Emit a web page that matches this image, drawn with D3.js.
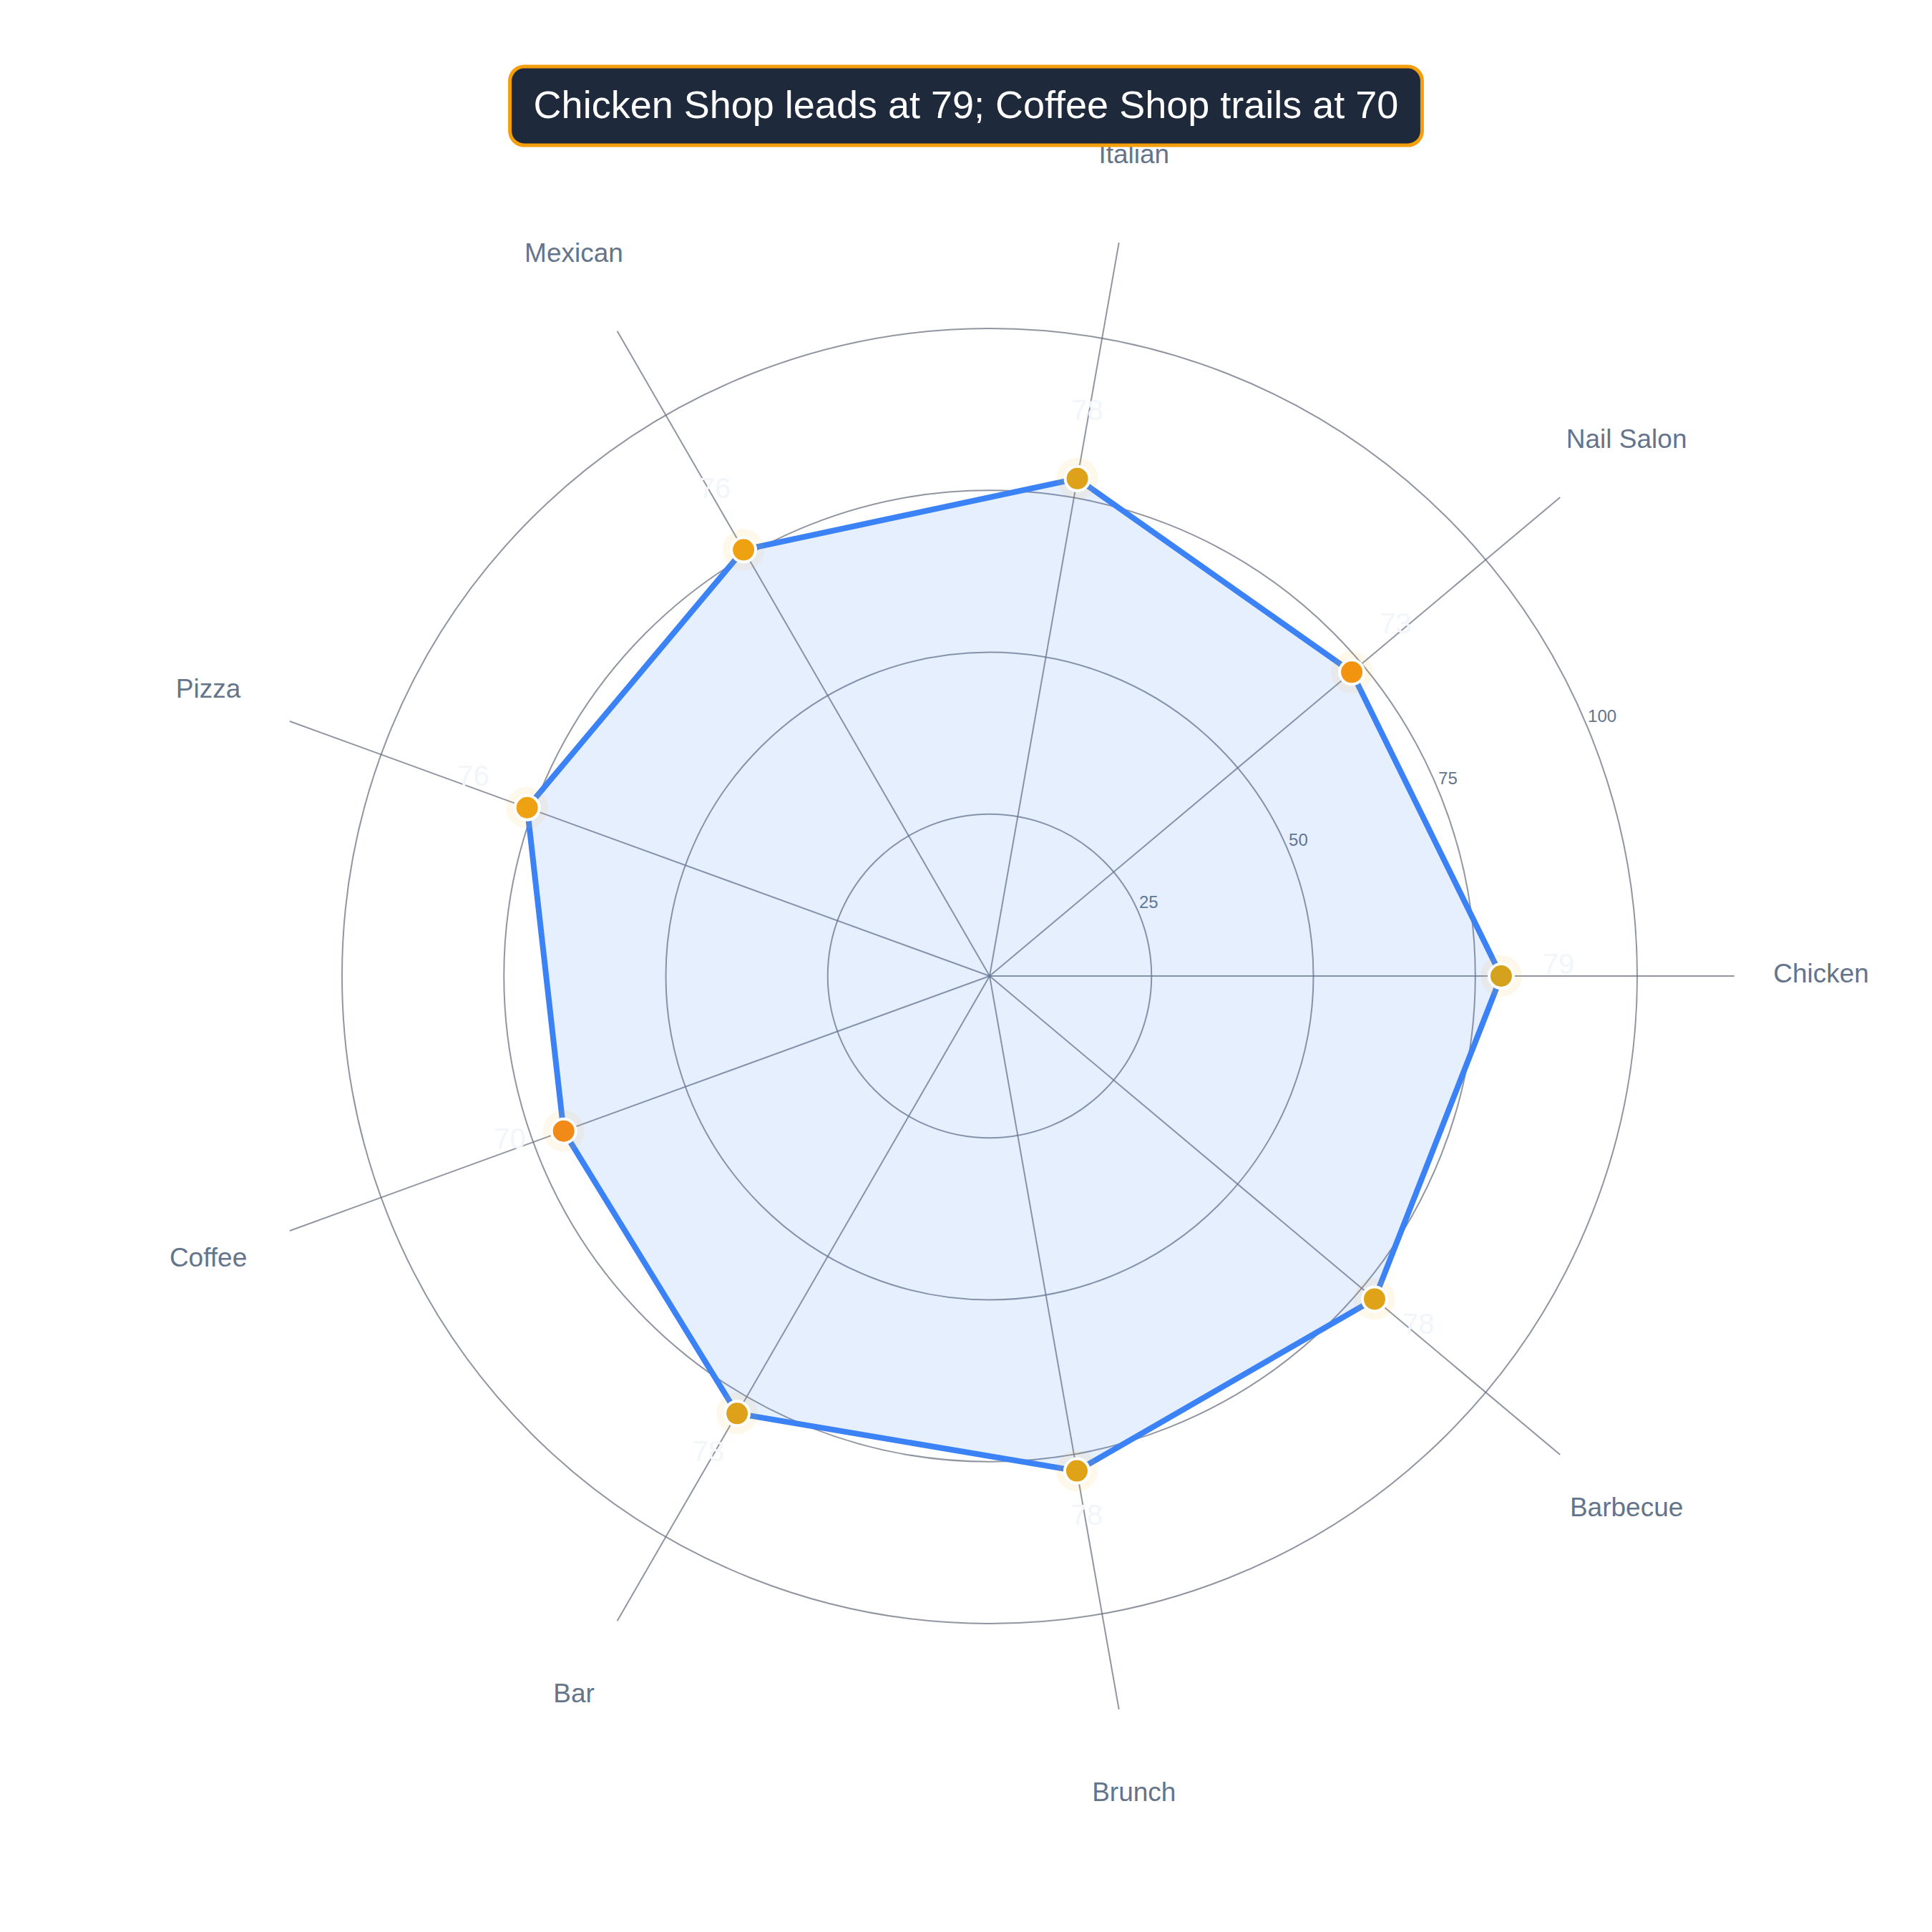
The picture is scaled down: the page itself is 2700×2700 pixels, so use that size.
<!DOCTYPE html>
<html>
<head>
<meta charset="utf-8">
<script src="https://cdn.jsdelivr.net/npm/d3@7"></script>
<style>
  body { margin: 0; background: #ffffff; }
  svg { display: block; font-family: "Liberation Sans", Arial, Helvetica, sans-serif; }
</style>
</head>
<body>
<script>
// shop categories, counter-clockwise from the right
var categories = ["Chicken", "Nail Salon", "Italian", "Mexican", "Pizza", "Coffee", "Bar", "Brunch", "Barbecue"]
var scores = [79, 73, 78, 76, 76, 70, 78, 77.6, 77.6]
var radialTicks = [25, 50, 75, 100]
var titleText = "Chicken Shop leads at 79; Coffee Shop trails at 70"

var width = 2700
var height = 2700
var cx = 1383, cy = 1364

var svg = d3.select("body").append("svg")
    .attr("width", width)
    .attr("height", height)

var r = d3.scaleLinear().domain([0, 100]).range([0, 905])
var angle = d3.scaleLinear().domain([0, categories.length]).range([0, 2 * Math.PI])

// point colour goes from orange (low) to gold (high)
var dotColor = d3.scaleLinear()
    .domain([70, 73, 76, 79])
    .range(["#f28a18", "#f39410", "#eea212", "#d4a21c"])

function px(a, rad) { return cx + rad * Math.cos(a) }
function py(a, rad) { return cy - rad * Math.sin(a) }

var g = svg.append("g")

// rings
g.selectAll(".ring")
    .data(radialTicks)
    .enter().append("circle")
    .attr("cx", cx).attr("cy", cy)
    .attr("r", d => r(d))
    .attr("fill", "none")
    .attr("stroke", "#6b7280")
    .attr("stroke-opacity", 0.75)
    .attr("stroke-width", 2)

// spokes
g.selectAll(".spoke")
    .data(categories)
    .enter().append("line")
    .attr("x1", cx).attr("y1", cy)
    .attr("x2", (d, i) => px(angle(i), r(115)))
    .attr("y2", (d, i) => py(angle(i), r(115)))
    .attr("stroke", "#6b7280")
    .attr("stroke-opacity", 0.75)
    .attr("stroke-width", 2)

// tick labels
var tickAng = 22.5 * Math.PI / 180
g.selectAll(".tick")
    .data(radialTicks)
    .enter().append("text")
    .attr("x", d => cx + r(d) * Math.cos(tickAng))
    .attr("y", d => cy - r(d) * Math.sin(tickAng) - 15)
    .attr("dominant-baseline", "middle")
    .attr("font-size", 24)
    .attr("fill", "#64748b")
    .text(d => d)

// polygon
var pts = scores.map((v, i) => [px(angle(i), r(v)), py(angle(i), r(v))])
g.append("path")
    .datum(pts)
    .attr("d", d3.line().curve(d3.curveLinearClosed))
    .attr("fill", "#3b82f6")
    .attr("fill-opacity", 0.13)
    .attr("stroke", "#3b82f6")
    .attr("stroke-width", 8)
    .attr("stroke-linejoin", "round")

// halos
g.selectAll(".halo")
    .data(scores)
    .enter().append("circle")
    .attr("cx", (d, i) => px(angle(i), r(d)))
    .attr("cy", (d, i) => py(angle(i), r(d)))
    .attr("r", 29)
    .attr("fill", "#f5b323")
    .attr("fill-opacity", 0.09)

// dots
g.selectAll(".dot")
    .data(scores)
    .enter().append("circle")
    .attr("cx", (d, i) => px(angle(i), r(d)))
    .attr("cy", (d, i) => py(angle(i), r(d)))
    .attr("r", 17)
    .attr("fill", d => dotColor(d))
    .attr("stroke", "#ffffff")
    .attr("stroke-width", 4)

// value labels (faint)
g.selectAll(".val")
    .data(scores)
    .enter().append("text")
    .attr("x", (d, i) => px(angle(i), r(d) + 80))
    .attr("y", (d, i) => py(angle(i), r(d) + 80) - 3)
    .attr("text-anchor", "middle")
    .attr("font-size", 40)
    .attr("fill", "#f2f5f9")
    .text(d => d3.format(".0f")(d))

// category labels
g.selectAll(".cat")
    .data(categories)
    .enter().append("text")
    .attr("x", (d, i) => px(angle(i), 1162))
    .attr("y", (d, i) => py(angle(i), 1162) - 4)
    .attr("text-anchor", "middle")
    .attr("dominant-baseline", "central")
    .attr("font-size", 37)
    .attr("fill", "#64748b")
    .text(d => d)

// title badge
var tg = svg.append("g")
var box = tg.append("rect")
var tt = tg.append("text")
    .attr("x", 1350)
    .attr("y", 146)
    .attr("text-anchor", "middle")
    .attr("dominant-baseline", "central")
    .attr("font-size", 54)
    .attr("fill", "#ffffff")
    .text(titleText)
var tw = tt.node().getComputedTextLength()
box.attr("x", 1350 - tw / 2 - 33)
    .attr("y", 93)
    .attr("width", tw + 66)
    .attr("height", 110)
    .attr("rx", 20)
    .attr("fill", "#1e293b")
    .attr("stroke", "#f59e0b")
    .attr("stroke-width", 5)
</script>
</body>
</html>
